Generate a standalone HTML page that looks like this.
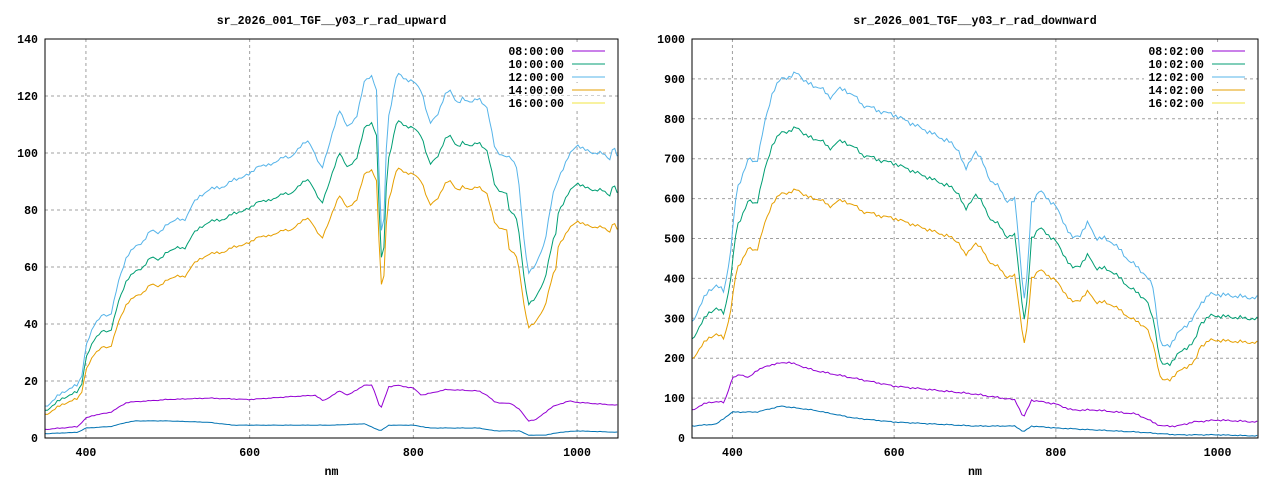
<!DOCTYPE html>
<html><head><meta charset="utf-8"><style>
html,body{margin:0;padding:0;background:#fff;}
svg{display:block;}
text{font-family:"Liberation Mono",monospace;font-weight:bold;font-size:11.6px;fill:#000;}
</style></head><body>
<svg id="s" width="1280" height="480" xmlns="http://www.w3.org/2000/svg"></svg>
<script>
const S=document.getElementById('s');let h='';
function interp(pts,x){for(let i=0;i<pts.length-1;i++){const [a,va]=pts[i],[b,vb]=pts[i+1];if(x>=a&&x<=b)return va+(vb-va)*(x-a)/(b-a);}return pts[pts.length-1][1];}
function jit(x,s){return (Math.sin(x*0.9)+Math.sin(x*0.33+1)*0.7)*s;}
function panel(o){
 const {L,R,T,B,ymax,ystep,title,yl,leg}=o;
 const sx=x=>L+(x-350)*(R-L)/700, sy=y=>B-y*(B-T)/ymax;
 h+=`<text x="${(L+R)/2}" y="24" text-anchor="middle">${title}</text>`;
 for(let v=0;v<=ymax;v+=ystep){const y=sy(v);
  if(v>0&&v<ymax)h+=`<line x1="${L}" y1="${y}" x2="${R}" y2="${y}" stroke="#a0a0a0" stroke-dasharray="3,3"/>`;
  h+=`<text x="${L-7}" y="${y+4}" text-anchor="end">${v}</text>`;}
 for(const v of [400,600,800,1000]){const x=sx(v);
  h+=`<line x1="${x}" y1="${T}" x2="${x}" y2="${B}" stroke="#a0a0a0" stroke-dasharray="3,3"/>`;
  h+=`<text x="${x}" y="${B+18}" text-anchor="middle">${v}</text>`;}
 h+=`<text x="${(L+R)/2}" y="${B+37}" text-anchor="middle">nm</text>`;
 for(const s of o.series){let d='';for(let x=350;x<=1050;x+=3){let v=s.f(x);d+=(d?'L':'M')+sx(x).toFixed(1)+','+sy(Math.max(0,v)).toFixed(1);}
  h+=`<path d="${d}" fill="none" stroke="${s.c}" stroke-width="1"/>`;}
 const cols=['#9400d3','#009e73','#56b4e9','#e69f00','#f0e442'];
 leg.forEach((t,i)=>{const y=51+i*13;
  h+=`<rect x="${o.lx-60}" y="${y-7}" width="98" height="12" fill="#fff"/>`;
  h+=`<text x="${o.lx}" y="${y+4}" text-anchor="end">${t}</text>`;
  h+=`<line x1="${o.lx+8}" y1="${y}" x2="${o.lx+41}" y2="${y}" stroke="${cols[i]}"/>`;});
 h+=`<rect x="${L}" y="${T}" width="${R-L}" height="${B-T}" fill="none" stroke="#000"/>`;
}
const cu=[[350,11],[360,13],[370,16],[380,17],[390,19],[395,22],[400,32],[410,40],[420,43],[430,43],[440,55],[450,64],[460,67],[470,69],[480,73],[490,72],[500,75],[510,77],[520,76],[530,82],[540,85],[550,87],[560,88],[570,88],[580,91],[590,91],[600,93],[610,95],[620,96],[630,96],[640,99],[650,98],[660,102],[670,104],[675,103],[688,94],[700,106],[710,115],[720,109],[730,112],[740,125],[750,127],[755,122],[760,75],[763,68],[768,110],[780,128],[790,126],[800,125],[810,122],[820,110],[830,114],[840,121],[845,122],[855,117],[860,119],[870,118],[880,119],[890,116],[900,101],[910,99],[920,98],[927,95],[935,70],[940,58],[950,61],[960,68],[970,85],[980,93],[990,99],[1000,103],[1010,101],[1020,100],[1030,100],[1040,98],[1045,103],[1050,97]];
const pu=[[350,3],[390,4],[400,7],[410,8],[430,9],[450,12.5],[500,13.5],[550,14],[600,13.5],[650,14.5],[680,15],[690,13],[710,16.5],[720,15],[740,18.5],[750,18.5],[760,10],[770,18],[780,18.5],[800,17.5],[810,15],[840,17],[880,16.5],[890,15],[900,12.5],[920,12],[930,10],[940,6],[950,6.5],[970,11],[990,13],[1000,12.5],[1050,11.5]];
const bu=[[350,1.5],[390,2],[400,3.5],[430,4],[450,5.5],[460,6],[500,6],[550,5.5],[580,4.5],[650,4.5],[700,4.5],[740,5],[760,2.5],[770,4.5],[800,4.5],[820,3.5],[880,3.5],[900,2.5],[930,2.5],[940,1],[960,1],[980,2],[1000,2.5],[1050,2]];
const cd=[[350,290],[360,330],[370,370],[380,380],[390,370],[398,470],[405,620],[420,700],[430,690],[440,790],[450,870],[460,900],[470,905],[480,915],[490,895],[500,880],[510,880],[520,850],[530,875],[540,870],[550,860],[560,835],[570,830],[580,820],[600,810],[620,790],[640,770],[660,750],[670,740],[680,720],[688,670],[700,720],[710,690],[720,640],[730,630],[740,590],[750,600],[757,420],[762,330],[770,590],[780,620],[790,600],[800,580],[810,540],[820,500],[830,510],[840,540],[850,500],[860,500],[870,490],[880,470],[890,445],[900,430],[910,410],[920,380],[930,230],[940,230],[950,260],[960,280],[970,300],[980,340],[990,360],[1000,360],[1050,350]];
const pd=[[350,70],[370,90],[390,90],[400,150],[410,160],[420,150],[430,170],[450,185],[470,190],[500,170],[550,150],[600,130],[650,120],[700,110],[750,95],[760,50],[770,95],[800,85],[820,70],[850,70],[900,60],[930,30],[950,30],[970,40],[1000,45],[1050,40]];
const bd=[[350,30],[380,35],[400,65],[430,65],[460,80],[500,70],[550,50],[600,40],[700,30],[750,30],[760,15],[770,30],[800,25],[900,15],[950,8],[1000,8],[1050,5]];
const fac=(x,a,b)=>(x>915&&x<975)?b:a;
panel({L:45,R:618,T:39,B:438,ymax:140,ystep:20,title:'sr_2026_001_TGF__y03_r_rad_upward',lx:564,
 leg:['08:00:00','10:00:00','12:00:00','14:00:00','16:00:00'],series:[
 {c:'#9400d3',f:x=>interp(pu,x)+jit(x,0.1)},
 {c:'#0072b2',f:x=>interp(bu,x)+jit(x,0.05)},
 {c:'#56b4e9',f:x=>interp(cu,x)+jit(x,0.4)},
 {c:'#009e73',f:x=>interp(cu,x)*fac(x,0.87,0.81)+jit(x,0.35)},
 {c:'#e69f00',f:x=>interp(cu,x)*fac(x,0.74,0.67)+jit(x,0.3)}]});
panel({L:692,R:1258,T:39,B:438,ymax:1000,ystep:100,title:'sr_2026_001_TGF__y03_r_rad_downward',lx:1204,
 leg:['08:02:00','10:02:00','12:02:00','14:02:00','16:02:00'],series:[
 {c:'#9400d3',f:x=>interp(pd,x)+jit(x,1.5)},
 {c:'#0072b2',f:x=>interp(bd,x)+jit(x,0.8)},
 {c:'#56b4e9',f:x=>interp(cd,x)+jit(x,4)},
 {c:'#009e73',f:x=>interp(cd,x)*fac(x,0.85,0.8)+jit(x,3.5)},
 {c:'#e69f00',f:x=>interp(cd,x)*fac(x,0.68,0.63)+jit(x,3)}]});
S.innerHTML=h;
</script>
</body></html>
